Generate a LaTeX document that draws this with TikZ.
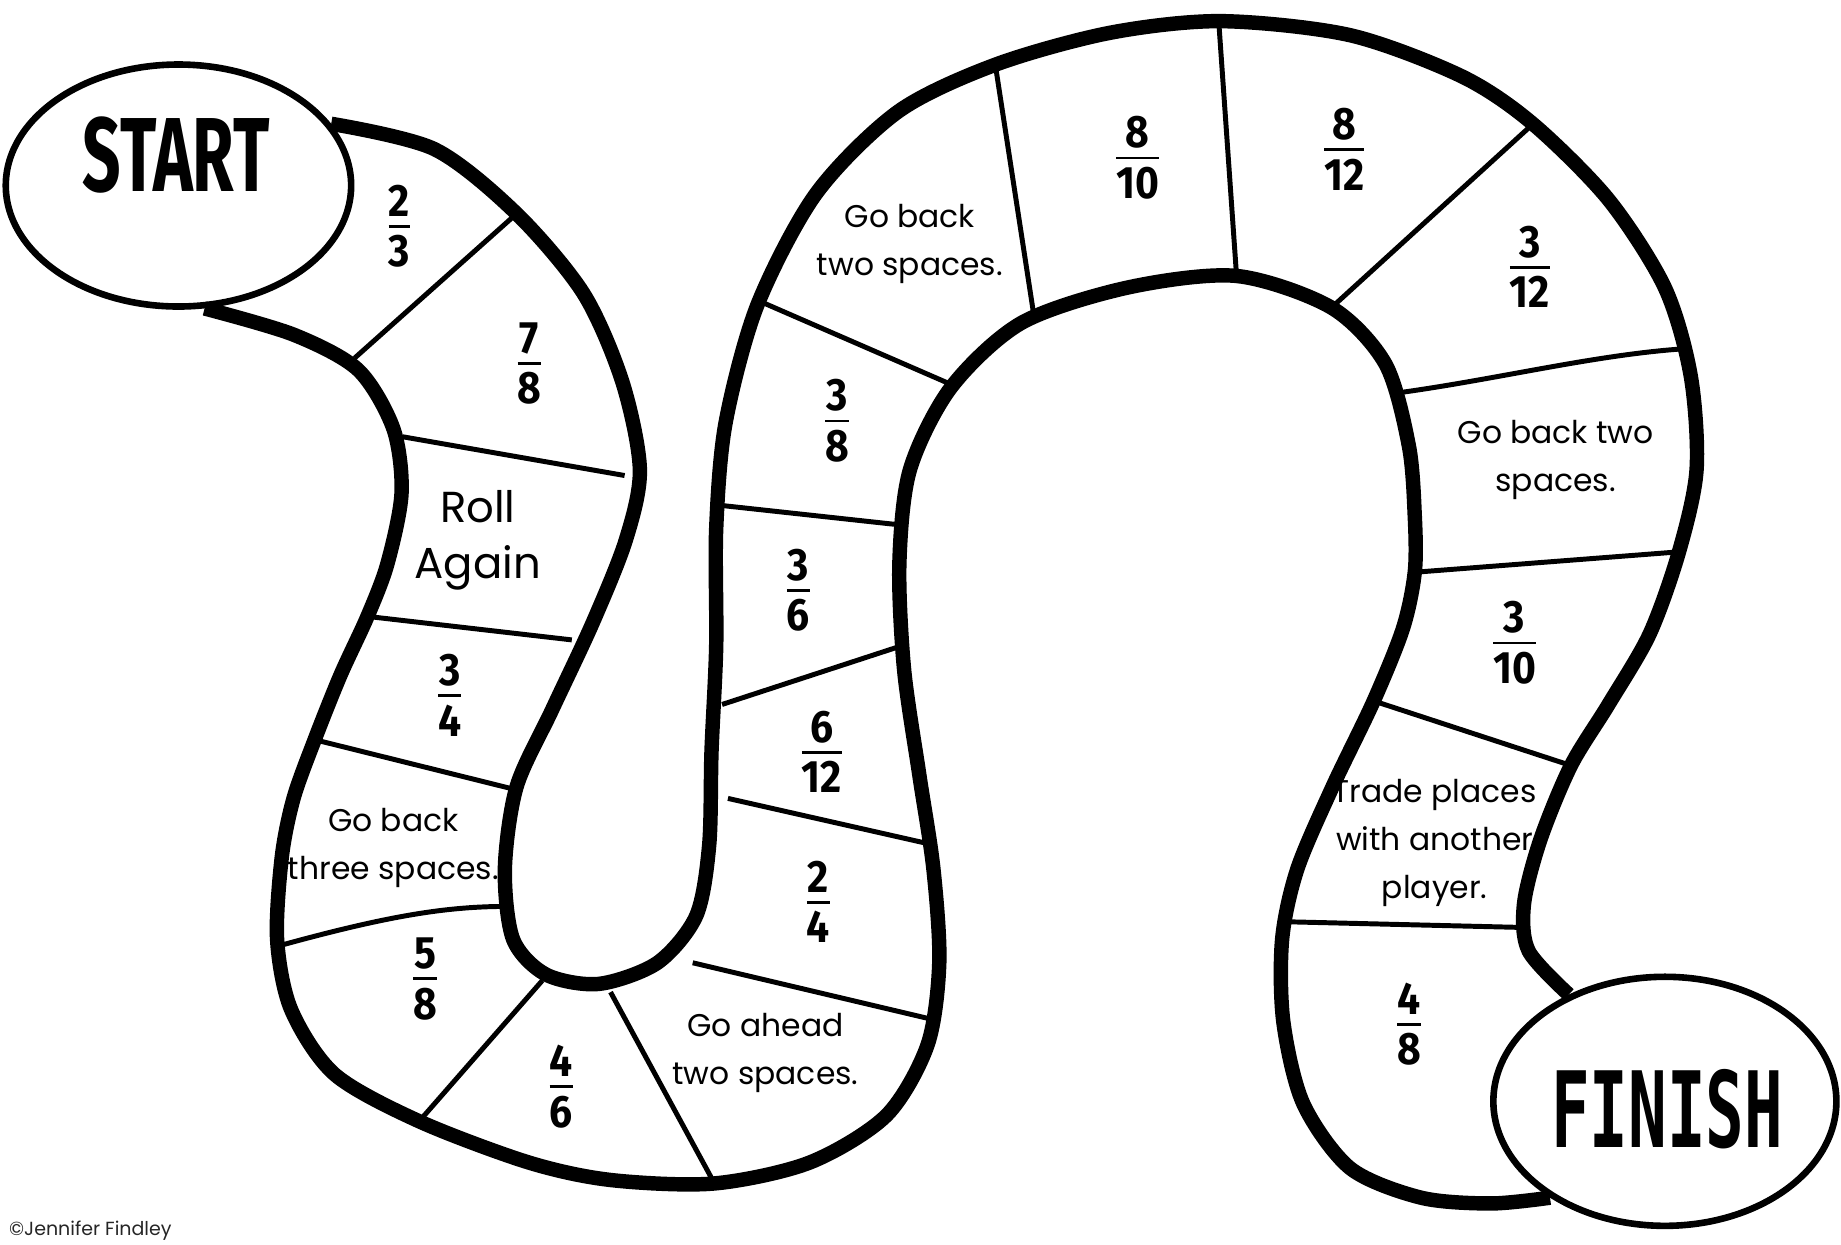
\documentclass[tikz,border=0pt]{standalone}
\usepackage{fontspec}
\setmainfont{Poppins}
\newfontfamily\fracfont{Fira Sans}
\newfontfamily\signfont{DejaVu Sans Mono}
\usetikzlibrary{shapes.geometric}

\newcommand\frc[2]{{\setlength{\arrayrulewidth}{0.7pt}%
  \scalebox{0.9}[1]{\fracfont\bfseries\fontsize{11}{12}\selectfont
  \begin{tabular}{@{}c@{}}#1\\[-1.5pt]\hline\noalign{\vskip1pt}#2\end{tabular}}}}

\tikzset{
  track/.style={line width=3.5pt, line join=round},
  divider/.style={line width=1.2pt},
  goal/.style={ellipse, draw, line width=1.6pt, fill=white, inner sep=0pt},
  space/.style={font=\fontsize{7.6}{11.7}\selectfont, align=center, inner sep=0pt},
  fraction/.style={inner sep=0pt}
}

\begin{document}
\begin{tikzpicture}[x=0.01cm, y=-0.01cm]
    \useasboundingbox (0,0) rectangle (1568,1060);
    % Start and finish
    \node[goal, minimum width=2.94cm, minimum height=2.06cm] (start) at (152,158) {};
    \node[goal, minimum width=2.92cm, minimum height=2.12cm] (finish) at (1418,938) {};
    \node (startlbl) at (150,132) {\scalebox{0.64}[1]{\fracfont\bfseries\fontsize{25.5}{26}\selectfont START}};
    \node (finishlbl) at (1420,945) {\scalebox{0.61}[1]{\signfont\bfseries\fontsize{25.5}{26}\selectfont FINISH}};
    % Outer side of the path
    \draw[track] plot[smooth] coordinates {(start.22) (370,127) (440,182) (497,250) (530,325)
      (545,400) (533,460) (505,530) (470,605) (440,670) (430,740) (437,800) (465,830)
      (510,838) (560,820) (593,780) (604,720) (606,640) (610,550) (610,450) (618,360)
      (645,260) (695,165) (765,95) (848,55) (945,28) (1040,18) (1150,30) (1245,65)
      (1305,105) (1370,170) (1418,245) (1440,320) (1445,400) (1430,470) (1405,540)
      (1370,600) (1338,652) (1312,715) (1298,770) (1302,810) (finish.132)};
    % Inner side of the path
    \draw[track] plot[smooth] coordinates {(start.-78) (250,285) (305,315) (335,365)
      (342,420) (330,480) (313,525) (290,575) (268,630) (250,680) (240,730) (236,800)
      (248,860) (285,915) (357,955) (450,990) (520,1005) (608,1008) (690,990) (755,950)
      (790,890) (800,820) (795,740) (783,660) (770,570) (766,480) (775,400) (810,330)
      (870,275) (960,245) (1053,235) (1134,262) (1180,310) (1200,380) (1205,440)
      (1205,487) (1195,535) (1170,597) (1135,670) (1105,740) (1092,800) (1093,870)
      (1110,940) (1150,995) (1210,1020) (1270,1025) (finish.220)};
    % Spaces
    \draw[divider] (302,305) -- (440,182);
    \draw[divider] (343,372) -- (532,405);
    \draw[divider] (313,525) -- (487,545);
    \draw[divider] (268,630) -- (437,672);
    \draw[divider] (236,806) .. controls (330,780) and (380,772) .. (432,772);
    \draw[divider] (357,955) -- (462,835);
    \draw[divider] (608,1007) -- (520,845);
    \draw[divider] (590,820) -- (793,868);
    \draw[divider] (620,680) -- (788,718);
    \draw[divider] (615,600) -- (768,550);
    \draw[divider] (610,430) -- (766,447);
    \draw[divider] (648,257) -- (816,330);
    \draw[divider] (848,57) -- (880,265);
    \draw[divider] (1038,18) -- (1053,232);
    \draw[divider] (1303,108) -- (1134,262);
    \draw[divider] (1195,334) .. controls (1280,322) and (1360,302) .. (1435,297);
    \draw[divider] (1210,487) -- (1430,470);
    \draw[divider] (1170,597) -- (1338,652);
    \draw[divider] (1093,785) -- (1300,790);
    % Labels
    \node[fraction] (twothirds) at (340,197) {\frc{2}{3}};
    \node[fraction] (seveneighths) at (451,314) {\frc{7}{8}};
    \node[space, font=\fontsize{10.5}{13.7}\selectfont] (roll) at (407,460) {Roll\\Again};
    \node[fraction] (threefourths) at (383,597) {\frc{3}{4}};
    \node[space] (backthree) at (335,722) {Go back\\three spaces.};
    \node[fraction] (fiveeighths) at (362,838) {\frc{5}{8}};
    \node[fraction] (foursixths) at (478,930) {\frc{4}{6}};
    \node[space] (ahead) at (652,897) {Go ahead\\two spaces.};
    \node[fraction] (twofourths) at (697,773) {\frc{2}{4}};
    \node[fraction] (sixtwelfths) at (700,645) {\frc{6}{12}};
    \node[fraction] (threesixths) at (680,507) {\frc{3}{6}};
    \node[fraction] (threeeighths) at (713,363) {\frc{3}{8}};
    \node[space] (backtwoa) at (775,208) {Go back\\two spaces.};
    \node[fraction] (eighttenths) at (969,139) {\frc{8}{10}};
    \node[fraction] (eighttwelfths) at (1145,132) {\frc{8}{12}};
    \node[fraction] (threetwelfths) at (1303,232) {\frc{3}{12}};
    \node[space] (backtwob) at (1325,392) {Go back two\\spaces.};
    \node[fraction] (threetenths) at (1290,552) {\frc{3}{10}};
    \node[space] (trade) at (1222,718) {Trade places\\with another\\player.};
    \node[fraction] (foureighths) at (1200,877) {\frc{4}{8}};
    \node[font=\fontsize{4.6}{6}\selectfont, text=black!85, inner sep=0pt] (credit) at (77,1048) {©Jennifer Findley};
\end{tikzpicture}
\end{document}
